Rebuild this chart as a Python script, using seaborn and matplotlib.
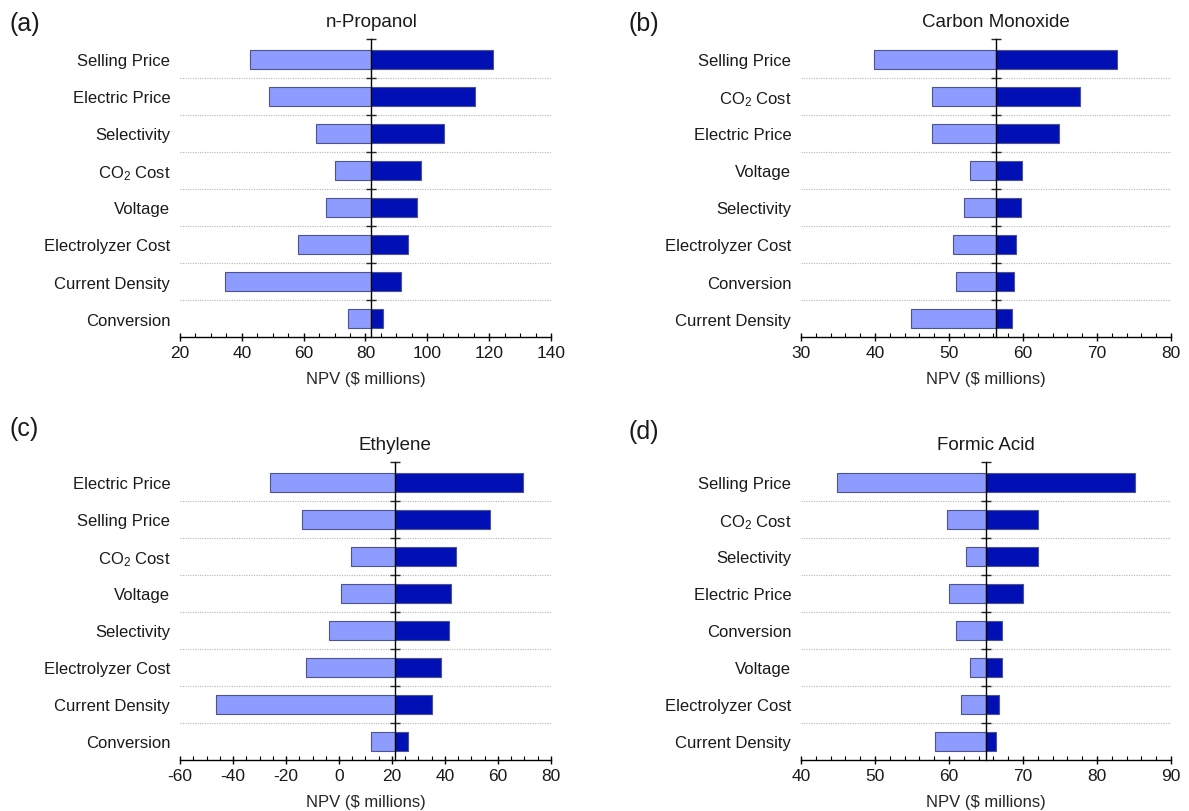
import matplotlib

matplotlib.use("Agg")
import matplotlib.pyplot as plt
import seaborn as sns
from matplotlib.ticker import MultipleLocator
from matplotlib.transforms import blended_transform_factory


# NPV sensitivity, $ millions (low / high case for each factor)
propanol_factors = [
    "Selling Price", "Electric Price", "Selectivity", "CO$_2$ Cost",
    "Voltage", "Electrolyzer Cost", "Current Density", "Conversion",
]
propanol_low = [42.6, 48.8, 63.9, 70.0, 67.3, 58.2, 34.5, 74.2]
propanol_high = [121.2, 115.3, 105.4, 97.9, 96.7, 93.9, 91.5, 85.8]
propanol_base = 81.9

co_factors = [
    "Selling Price", "CO$_2$ Cost", "Electric Price", "Voltage",
    "Selectivity", "Electrolyzer Cost", "Conversion", "Current Density",
]
co_low = [39.8, 47.7, 47.7, 52.8, 52.0, 50.6, 50.9, 44.9]
co_high = [72.7, 67.7, 64.8, 59.8, 59.7, 59.0, 58.8, 58.5]
co_base = 56.3

ethylene_factors = [
    "Electric Price", "Selling Price", "CO$_2$ Cost", "Voltage",
    "Selectivity", "Electrolyzer Cost", "Current Density", "Conversion",
]
ethylene_low = [-26.2, -14.0, 4.4, 0.6, -3.6, -12.4, -46.3, 11.9]
ethylene_high = [69.3, 57.0, 44.3, 42.3, 41.7, 38.4, 35.1, 26.0]
ethylene_base = 21.2

formic_factors = [
    "Selling Price", "CO$_2$ Cost", "Selectivity", "Electric Price",
    "Conversion", "Voltage", "Electrolyzer Cost", "Current Density",
]
formic_low = [44.9, 59.7, 62.3, 60.0, 60.9, 62.9, 61.6, 58.1]
formic_high = [85.1, 72.0, 72.0, 70.0, 67.1, 67.1, 66.7, 66.4]
formic_base = 65.0

LIGHT = "#8e9cff"
DARK = "#0010b4"
EDGE = "#4d5390"


def draw_tornado(ax, title, factors, low, high, base, xlim, major, minor):
    low_delta = [v - base for v in low]
    high_delta = [v - base for v in high]

    for deltas, color in [(low_delta, LIGHT), (high_delta, DARK)]:
        sns.barplot(
            x=deltas,
            y=factors,
            order=factors,
            orient="y",
            left=base,
            color=color,
            saturation=1,
            edgecolor=EDGE,
            linewidth=0.8,
            width=0.5,
            errorbar=None,
            ax=ax,
        )

    n = len(factors)
    top = -0.55
    ax.set_xlim(*xlim)
    ax.set_ylim(n - 0.5, top)
    ax.xaxis.set_major_locator(MultipleLocator(major))
    ax.xaxis.set_minor_locator(MultipleLocator(minor))

    boundaries = [i + 0.5 for i in range(n - 1)]
    ax.set_yticks(boundaries, minor=True)
    ax.set_axisbelow(True)
    ax.grid(which="minor", axis="y", linestyle=(0, (1, 1.2)),
            color="#b5b5b5", linewidth=0.8)
    ax.tick_params(axis="y", which="both", length=0, pad=7, labelsize=12)
    ax.tick_params(axis="x", which="major", direction="inout", length=6,
                   width=1, labelsize=12.5, pad=3)
    ax.tick_params(axis="x", which="minor", direction="in", length=3, width=0.8)
    sns.despine(ax=ax, left=True)
    ax.spines["bottom"].set_linewidth(1)
    ax.spines["bottom"].set_color("black")
    ax.set_ylabel("")
    ax.set_xlabel(r"NPV (\$ millions)", fontsize=12, labelpad=8)

    # vertical axis drawn at the base-case NPV
    frac = (base - xlim[0]) / (xlim[1] - xlim[0])
    sec = ax.secondary_yaxis(frac)
    sec.set_yticks([top] + boundaries)
    sec.tick_params(direction="inout", length=7, width=1,
                    labelleft=False, labelright=False)
    for side in ["left", "right"]:
        sec.spines[side].set_linewidth(1)
        sec.spines[side].set_color("black")
    sec.set_zorder(3)

    trans = blended_transform_factory(ax.transData, ax.transAxes)
    ax.text(base, 1.03, title, transform=trans, ha="center", va="bottom",
            fontsize=13.5)


def main():
    sns.set_style("ticks")
    plt.rcParams["font.family"] = ["Liberation Sans", "DejaVu Sans"]
    plt.rcParams["mathtext.fontset"] = "custom"
    plt.rcParams["mathtext.rm"] = "Liberation Sans"
    plt.rcParams["mathtext.it"] = "Liberation Sans:italic"
    plt.rcParams["axes.unicode_minus"] = False
    plt.rcParams["text.color"] = "#1a1a1a"
    plt.rcParams["xtick.color"] = "black"
    plt.rcParams["xtick.labelcolor"] = "#1a1a1a"
    plt.rcParams["ytick.labelcolor"] = "#1a1a1a"

    fig = plt.figure(figsize=(11.89, 8.12), dpi=100)

    panels = [
        ("(a)", "n-Propanol", propanol_factors, propanol_low, propanol_high,
         propanol_base, (20, 140), 20, 5, [0.1514, 0.5837, 0.312, 0.367],
         (0.008, 0.985)),
        ("(b)", "Carbon Monoxide", co_factors, co_low, co_high,
         co_base, (30, 80), 10, 2, [0.6737, 0.5837, 0.3112, 0.367],
         (0.529, 0.985)),
        ("(c)", "Ethylene", ethylene_factors, ethylene_low, ethylene_high,
         ethylene_base, (-60, 80), 20, 5, [0.1514, 0.0628, 0.312, 0.367],
         (0.008, 0.486)),
        ("(d)", "Formic Acid", formic_factors, formic_low, formic_high,
         formic_base, (40, 90), 10, 2, [0.6737, 0.0628, 0.3112, 0.367],
         (0.529, 0.483)),
    ]

    for letter, title, factors, low, high, base, xlim, major, minor, rect, pos in panels:
        ax = fig.add_axes(rect)
        draw_tornado(ax, title, factors, low, high, base, xlim, major, minor)
        fig.text(pos[0], pos[1], letter, fontsize=18, va="top", ha="left")

    fig.savefig("out.png", dpi=100)
    plt.close(fig)


if __name__ == "__main__":
    main()
